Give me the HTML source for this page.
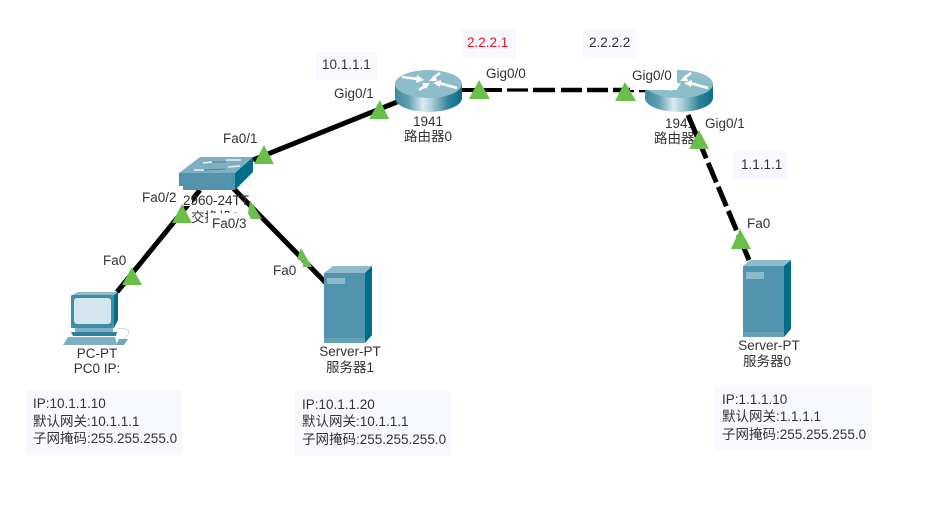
<!DOCTYPE html>
<html>
<head>
<meta charset="utf-8">
<style>
html,body{margin:0;padding:0;background:#fff;width:952px;height:508px;overflow:hidden}
svg{display:block}
text{font-family:"Liberation Sans","Noto Sans CJK SC",sans-serif;font-size:13.5px;fill:#333}
.m{text-anchor:middle}
</style>
</head>
<body>
<svg width="952" height="508" viewBox="0 0 952 508" xmlns="http://www.w3.org/2000/svg">
<defs>
<linearGradient id="cyl" x1="0" x2="1" y1="0" y2="0">
<stop offset="0" stop-color="#3f8a9f"/>
<stop offset=".2" stop-color="#5f9fb1"/>
<stop offset=".42" stop-color="#dcebef"/>
<stop offset=".55" stop-color="#a9cdd7"/>
<stop offset=".8" stop-color="#2f8198"/>
<stop offset="1" stop-color="#0a6e88"/>
</linearGradient>
<g id="arrows">
<g fill="none" stroke="#fff" stroke-width="2.6">
<line x1="-26" y1="-5" x2="-10" y2="-3"/>
<line x1="12" y1="-9" x2="5" y2="-4"/>
<line x1="11" y1="1" x2="29" y2="6"/>
<line x1="-9" y1="8" x2="-3" y2="4"/>
</g>
<g fill="#fff">
<polygon points="-11,-7 -4,-2 -12,1"/>
<polygon points="7,-7 1,-1 9,-1"/>
<polygon points="5,1 13,-2 12,5"/>
<polygon points="-6,1 2,1 -2,7"/>
</g>
</g>
</defs>

<!-- info boxes -->
<rect x="316" y="52" width="61" height="28" fill="#f8f9fe"/>
<rect x="462" y="29" width="54" height="29" fill="#f8f9fe"/>
<rect x="583" y="29" width="54" height="29" fill="#f8f9fe"/>
<rect x="733" y="151" width="54" height="28" fill="#f8f9fe"/>
<rect x="26" y="390" width="156" height="65" fill="#f8f9fe"/>
<rect x="295" y="391" width="156" height="65" fill="#f8f9fe"/>
<rect x="715" y="385" width="157" height="65" fill="#f8f9fe"/>

<text x="322" y="69">10.1.1.1</text>
<text x="467" y="47" style="fill:#f01020">2.2.2.1</text>
<text x="589" y="47">2.2.2.2</text>
<text x="741" y="169">1.1.1.1</text>

<text x="33" y="408">IP:10.1.1.10</text>
<text x="33" y="426">默认网关:10.1.1.1</text>
<text x="33" y="443">子网掩码:255.255.255.0</text>
<text x="302" y="409">IP:10.1.1.20</text>
<text x="302" y="426">默认网关:10.1.1.1</text>
<text x="302" y="444">子网掩码:255.255.255.0</text>
<text x="722" y="404">IP:1.1.1.10</text>
<text x="722" y="421">默认网关:1.1.1.1</text>
<text x="722" y="439">子网掩码:255.255.255.0</text>

<!-- device labels -->
<text class="m" x="428" y="126">1941</text>
<text class="m" x="428" y="141">路由器0</text>
<text x="665" y="128">1941</text>
<text x="654" y="143">路由器1</text>
<text x="191" y="222">交换机0</text>
<text class="m" x="97" y="358">PC-PT</text>
<text class="m" x="97" y="373">PC0 IP:</text>
<text class="m" x="350" y="356">Server-PT</text>
<text class="m" x="350" y="372">服务器1</text>
<text class="m" x="769" y="350">Server-PT</text>
<text class="m" x="767" y="366">服务器0</text>

<!-- label mask over switch text -->
<rect x="208" y="213" width="42" height="20" fill="#fff"/>

<!-- connectors -->
<g stroke="#000" fill="none" stroke-width="5">
<line x1="253" y1="160" x2="397" y2="102"/>
<line x1="200" y1="190" x2="117" y2="292"/>
<line x1="233" y1="188" x2="327" y2="284"/>
</g>
<rect x="182" y="197" width="10" height="9" fill="#fff"/>
<text x="183" y="205">2960-24TT</text>

<!-- dashed: router to router -->
<g stroke="#000" fill="none">
<line x1="460" y1="90" x2="502" y2="90" stroke-width="4"/>
<line x1="507" y1="90" x2="528" y2="90" stroke-width="3.2"/>
<line x1="533" y1="90" x2="555" y2="90" stroke-width="4.6"/>
<line x1="561" y1="90" x2="582" y2="90" stroke-width="4.6"/>
<line x1="587" y1="90" x2="608" y2="90" stroke-width="4.6"/>
<line x1="613" y1="90" x2="634" y2="90" stroke-width="4.6"/>
<line x1="639" y1="90" x2="655" y2="90" stroke-width="4.6"/>
</g>

<!-- switch -->
<polygon points="179,173 200,157 253,157 235,173" fill="#7fb0c1"/>
<polygon points="179,173 235,173 235,190 183,190 183,186 179,186" fill="#5294ae"/>
<polygon points="235,173 253,157 253,172 235,190" fill="#006e87"/>
<g stroke="#e4f0f3" stroke-width="1.5" fill="none">
<line x1="203" y1="163" x2="212" y2="162"/>
<line x1="212" y1="162" x2="226" y2="162" stroke="#4b8298" stroke-width="1"/>
<line x1="226" y1="160" x2="241" y2="160"/>
<line x1="194" y1="170" x2="204" y2="170"/>
<line x1="204" y1="170" x2="225" y2="169" stroke="#4b8298" stroke-width="1"/>
<line x1="228" y1="167" x2="240" y2="166"/>
</g>

<!-- router 0 -->
<path d="M395 84 V98 A33.5 14 0 0 0 462 98 V84 Z" fill="url(#cyl)"/>
<ellipse cx="428.500" cy="84" rx="33.500" ry="14" fill="#8dbccb"/>
<use href="#arrows" transform="translate(428,82)"/>

<!-- router 1 -->
<path d="M645 84 V98 A34 14 0 0 0 713 98 V84 Z" fill="url(#cyl)"/>
<ellipse cx="679" cy="84" rx="34" ry="14" fill="#8dbccb"/>
<use href="#arrows" transform="translate(679,82)"/>

<!-- label mask over router 1 -->
<rect x="630" y="70" width="47" height="20" fill="#fff"/>

<!-- dashed: router 1 to server -->
<line x1="688" y1="115" x2="749" y2="260" stroke="#000" stroke-width="5" stroke-dasharray="47 5 21 5 21 5 21 5 30"/>

<!-- server 1 -->
<polygon points="324,273 333,266 372,266 365,273" fill="#8ebccb"/>
<rect x="324" y="273" width="41" height="70" fill="#5294ae"/>
<rect x="324" y="338" width="41" height="5" fill="#66a1b8"/>
<polygon points="365,273 372,266 372,335 365,343" fill="#006e87"/>
<rect x="327" y="278" width="18" height="6" fill="#8bbac9"/>

<!-- server 0 -->
<polygon points="743,266 750,260 791,260 784,266" fill="#8ebccb"/>
<rect x="743" y="266" width="41" height="71" fill="#5294ae"/>
<rect x="743" y="332" width="41" height="5" fill="#66a1b8"/>
<polygon points="784,266 791,260 791,329 784,337" fill="#006e87"/>
<rect x="746" y="272" width="18" height="7" fill="#8bbac9"/>

<!-- PC -->
<polygon points="72,295 78,292 118,292 114,295" fill="#8ebccb"/>
<rect x="71" y="295" width="43" height="33" rx="1" fill="#3f8ea5"/>
<polygon points="114,295 118,292 118,320 114,328" fill="#006e87"/>
<rect x="74" y="298" width="37" height="26" rx="3" fill="#d3e6ee"/>
<rect x="75" y="328" width="38" height="4" fill="#7fb3c3"/>
<polygon points="71,332 117,332 116,336 73,336" fill="#2e7f98"/>
<polygon points="68,337 115,337 117,345 63,345" fill="#7db1c1"/>
<polygon points="119,339 128,339 124,345 116,345" fill="#6ea6b8"/>
<path d="M123 339 Q131 334 128 330 Q125 328 118 329" fill="none" stroke="#c9dde4" stroke-width="1"/>

<!-- link lights -->
<g fill="#6abf4b">
<polygon points="380,100 369,119 389,119"/>
<polygon points="479,80 469,99 490,99"/>
<polygon points="625,82 615,101 636,101"/>
<polygon points="699,130 689,149 709,149"/>
<polygon points="740,229 731,249 751,249"/>
<polygon points="264,145 254,164 274,164"/>
<polygon points="182,204 172,223 192,223"/>
<polygon points="250,200 262,219 251,219 248,213"/>
<polygon points="301,248 312,267 303,267 303,262 297,259"/>
<polygon points="132,267 122,285 142,285"/>
</g>

<!-- port labels -->
<text x="334" y="98">Gig0/1</text>
<text x="486" y="78">Gig0/0</text>
<text x="632" y="80">Gig0/0</text>
<text x="705" y="128">Gig0/1</text>
<text x="747" y="228">Fa0</text>
<text x="223" y="143">Fa0/1</text>
<text x="142" y="202">Fa0/2</text>
<text x="212" y="228">Fa0/3</text>
<text x="273" y="275">Fa0</text>
<text x="103" y="265">Fa0</text>
</svg>
</body>
</html>
